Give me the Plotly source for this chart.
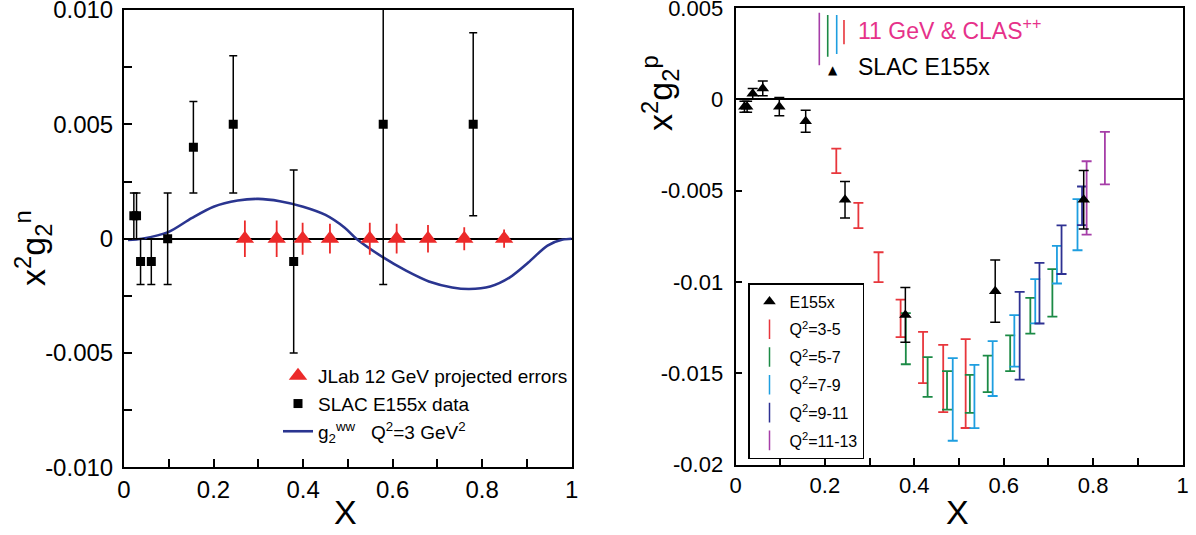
import plotly.graph_objects as go

FONT = "Liberation Sans, Arial, Helvetica, sans-serif"

# ---------------- Left panel (neutron) ----------------
slac_n_x = [0.022, 0.028, 0.037, 0.061, 0.0975, 0.155, 0.244, 0.379, 0.579, 0.780]
slac_n_y = [0.001, 0.001, -0.001, -0.001, 0.0, 0.004, 0.005, -0.001, 0.005, 0.005]
slac_n_err = [0.001, 0.001, 0.001, 0.001, 0.002, 0.002, 0.003, 0.004, 0.007, 0.004]

jlab_x = [0.270, 0.341, 0.399, 0.460, 0.549, 0.609, 0.679, 0.760, 0.849]
jlab_y = [0.0, 0.0, 0.0, 0.0, 0.0, 0.0, 0.0, 0.0, 0.0]
jlab_err = [0.0008, 0.0008, 0.0007, 0.00065, 0.0007, 0.00065, 0.0006, 0.0005, 0.0004]

ww_x = [0.009, 0.04, 0.10, 0.151, 0.20, 0.254, 0.30, 0.348, 0.40, 0.45, 0.493, 0.519,
        0.579, 0.63, 0.681, 0.733, 0.771, 0.818, 0.861, 0.903, 0.946, 0.98, 1.0]
ww_y = [-0.00006, 0.0, 0.0003, 0.0009, 0.0014, 0.00167, 0.00174, 0.00164, 0.0014, 0.00104,
        0.00048, 0.0, -0.00082, -0.0014, -0.00187, -0.00213, -0.0022, -0.00209, -0.0017,
        -0.00104, -0.0003, -0.00004, 0.0]

# ---------------- Right panel (proton) ----------------
e155_x = [0.020, 0.026, 0.0385, 0.061, 0.098, 0.157, 0.245, 0.380, 0.581, 0.779]
e155_y = [-0.0004, -0.0004, 0.0003, 0.0006, -0.0004, -0.0012, -0.0055, -0.0118, -0.0105, -0.0055]
e155_err = [0.0003, 0.0003, 0.0003, 0.0004, 0.0005, 0.0006, 0.0010, 0.0015, 0.0017, 0.0016]

q35_x = [0.2255, 0.2749, 0.320, 0.3694, 0.4196, 0.4647, 0.5149]
q35_y = [-0.00337, -0.00636, -0.00919, -0.01199, -0.01413, -0.01528, -0.01556]
q35_err = [0.00067, 0.00069, 0.00082, 0.00103, 0.0014, 0.00184, 0.00243]

q57_x = [0.381, 0.4298, 0.4732, 0.5243, 0.5643, 0.6145, 0.6596, 0.7089]
q57_y = [-0.0131, -0.0152, -0.01593, -0.01612, -0.01503, -0.0139, -0.01185, -0.01059]
q57_err = [0.0014, 0.00109, 0.00105, 0.00104, 0.0010, 0.00098, 0.00098, 0.0013]

q79_x = [0.486, 0.5345, 0.5753, 0.6238, 0.6706, 0.7191, 0.7651]
q79_y = [-0.01643, -0.01627, -0.01474, -0.01322, -0.01105, -0.00905, -0.00686]
q79_err = [0.00226, 0.00173, 0.0015, 0.00141, 0.00121, 0.00103, 0.0014]

q911_x = [0.6357, 0.680, 0.7294, 0.7753]
q911_y = [-0.01294, -0.01061, -0.00823, -0.00583]
q911_err = [0.0024, 0.00166, 0.00133, 0.00106]

q1113_x = [0.7855, 0.8264]
q1113_y = [-0.0054, -0.00322]
q1113_err = [0.00201, 0.00144]

left_xticks = [0, 0.2, 0.4, 0.6, 0.8, 1]
left_xtext = ["0", "0.2", "0.4", "0.6", "0.8", "1"]
left_yticks = [0.01, 0.005, 0, -0.005, -0.01]
left_ytext = ["0.010", "0.005", "0", "-0.005", "-0.010"]
right_yticks = [0.005, 0, -0.005, -0.01, -0.015, -0.02]
right_ytext = ["0.005", "0", "-0.005", "-0.01", "-0.015", "-0.02"]

RED = "#e8363c"
GREEN = "#1b8a45"
CYAN = "#1e9ee0"
BLUE = "#2e3192"
MAGENTA = "#a63ea8"
PINK = "#e6318a"
TRI_RED = "#ec2a2a"
CURVE = "#2a3590"

W, H = 1196, 535


def px(v):  # window pixel x -> paper
    return min(1.0, max(0.0, v / W))


def py(v):  # window pixel y -> paper
    return min(1.0, max(0.0, 1 - v / H))


fig = go.Figure()

# left traces
fig.add_trace(go.Scatter(
    x=ww_x, y=ww_y, mode="lines", xaxis="x", yaxis="y", legend="legend", legendrank=3,
    line=dict(color=CURVE, width=2.6, shape="spline", smoothing=0.8),
    name="g<sub>2</sub><sup>ww</sup>   Q<sup>2</sup>=3 GeV<sup>2</sup>"))
fig.add_trace(go.Scatter(
    x=slac_n_x, y=slac_n_y, mode="markers", xaxis="x", yaxis="y", legend="legend", legendrank=2,
    marker=dict(symbol="square", size=9, color="black"),
    error_y=dict(type="data", array=slac_n_err, color="black", thickness=1.5, width=4),
    name="SLAC E155x data"))
fig.add_trace(go.Scatter(
    x=jlab_x, y=jlab_y, mode="markers", xaxis="x", yaxis="y", legend="legend", legendrank=1,
    marker=dict(symbol="triangle-up", size=16, color=TRI_RED),
    error_y=dict(type="data", array=jlab_err, color=TRI_RED, thickness=1.8, width=0),
    name="JLab 12 GeV projected errors"))

# right traces (error bars only)
series = [
    (q35_x, q35_y, q35_err, RED, "Q<sup>2</sup>=3-5"),
    (q57_x, q57_y, q57_err, GREEN, "Q<sup>2</sup>=5-7"),
    (q79_x, q79_y, q79_err, CYAN, "Q<sup>2</sup>=7-9"),
    (q911_x, q911_y, q911_err, BLUE, "Q<sup>2</sup>=9-11"),
    (q1113_x, q1113_y, q1113_err, MAGENTA, "Q<sup>2</sup>=11-13"),
]
for sx, sy, se, col, nm in series:
    fig.add_trace(go.Scatter(
        x=sx, y=sy, mode="markers", xaxis="x2", yaxis="y2", showlegend=False,
        marker=dict(size=0, color="rgba(0,0,0,0)"),
        error_y=dict(type="data", array=se, color=col, thickness=1.8, width=5),
        name=nm, hoverinfo="skip"))

fig.add_trace(go.Scatter(
    x=e155_x, y=e155_y, mode="markers", xaxis="x2", yaxis="y2", legend="legend2",
    legendgroup="g0",
    marker=dict(symbol="triangle-up", size=11, color="black"),
    error_y=dict(type="data", array=e155_err, color="black", thickness=1.5, width=5),
    name="E155x"))
for i, (sx, sy, se, col, nm) in enumerate(series):
    fig.add_trace(go.Scatter(
        x=[None], y=[None], mode="markers", xaxis="x2", yaxis="y2", legend="legend2",
        legendgroup="g%d" % (i + 1),
        marker=dict(symbol="line-ns-open", size=14, color=col, line=dict(color=col, width=1.5)),
        name=nm))

xl = [px(124), px(571.7)]
yl = [py(467.4), py(10)]
xr = [px(735.5), px(1182.5)]
yr = [py(464.7), py(8)]

common_axis = dict(showgrid=False, showline=True, linecolor="black", mirror=True,
                   ticks="inside", tickcolor="black", automargin=False,
                   ticklabeloverflow="allow")

fig.update_layout(
    width=W, height=H,
    margin=dict(l=0, r=0, t=0, b=0),
    paper_bgcolor="white", plot_bgcolor="white",
    font=dict(family=FONT, color="black"),
    xaxis=dict(domain=xl, range=[0, 1], anchor="y", tickvals=left_xticks, ticktext=left_xtext,
               ticklen=8, tickwidth=1.5, linewidth=2, zeroline=False,
               tickfont=dict(size=24),
               minor=dict(tick0=0, dtick=0.1, ticks="inside", ticklen=8, tickcolor="black", tickwidth=1.5),
               **common_axis),
    yaxis=dict(domain=yl, range=[-0.01, 0.01], anchor="x", tickvals=left_yticks, ticktext=left_ytext,
               ticklen=8, tickwidth=1.5, linewidth=2, zeroline=True, zerolinecolor="black",
               zerolinewidth=2.2, tickfont=dict(size=24), ticklabelstandoff=4,
               minor=dict(tick0=0, dtick=0.0025, ticks="inside", ticklen=8, tickcolor="black", tickwidth=1.5),
               **common_axis),
    xaxis2=dict(domain=xr, range=[0, 1], anchor="y2", tickvals=left_xticks, ticktext=left_xtext,
                ticklen=7, tickwidth=1.5, linewidth=1.8, zeroline=False,
                tickfont=dict(size=22),
                minor=dict(tick0=0, dtick=0.1, ticks="inside", ticklen=7, tickcolor="black", tickwidth=1.5),
                **common_axis),
    yaxis2=dict(domain=yr, range=[-0.02, 0.005], anchor="x2", tickvals=right_yticks, ticktext=right_ytext,
                ticklen=7, tickwidth=1.5, linewidth=1.8, zeroline=True, zerolinecolor="black",
                zerolinewidth=1.6, tickfont=dict(size=22), ticklabelstandoff=6,
                **common_axis),
    legend=dict(x=px(278), y=py(357), xanchor="left", yanchor="top",
                bgcolor="rgba(0,0,0,0)", borderwidth=0, font=dict(size=19, family=FONT),
                tracegroupgap=0),
    legend2=dict(x=px(748), y=py(283), xanchor="left", yanchor="top",
                 bgcolor="white", bordercolor="black", borderwidth=1.5,
                 font=dict(size=16, family=FONT), traceorder="grouped", tracegroupgap=4),
)

# axis titles
ann = [
    dict(text="x<sup>2</sup>g<sub>2</sub><sup>n</sup>", x=px(33), y=py(248), textangle=-90,
         font=dict(size=34)),
    dict(text="x<sup>2</sup>g<sub>2</sub><sup>p</sup>", x=px(660), y=py(93), textangle=-90,
         font=dict(size=34)),
    dict(text="X", x=px(346), y=py(512), font=dict(size=34)),
    dict(text="X", x=px(957), y=py(512), font=dict(size=34)),
]
for a in ann:
    fig.add_annotation(xref="paper", yref="paper", showarrow=False, xanchor="center",
                       yanchor="middle", **a)

# key in the top of the right panel
fig.add_annotation(xref="x2", yref="y2", x=0.2705, y=0.00383, showarrow=False, xanchor="left",
                   yanchor="middle", text="11 GeV &amp; CLAS<sup>++</sup>",
                   font=dict(size=23, color=PINK))
fig.add_annotation(xref="x2", yref="y2", x=0.269, y=0.00178, showarrow=False, xanchor="left",
                   yanchor="middle", text="SLAC E155x", font=dict(size=23, color="black"))
fig.add_annotation(xref="x2", yref="y2", x=0.2188, y=0.0016, showarrow=False, xanchor="center",
                   yanchor="middle", text="▲", font=dict(size=12, color="black",
                                                        family="DejaVu Sans"))
key_lines = [
    (0.1875, 0.00187, 0.00474, MAGENTA),
    (0.2063, 0.00233, 0.00461, GREEN),
    (0.2264, 0.00248, 0.00461, CYAN),
    (0.2427, 0.00301, 0.00434, RED),
]
for kx, y0, y1, col in key_lines:
    fig.add_shape(type="line", xref="x2", yref="y2", x0=kx, x1=kx, y0=y0, y1=y1,
                  line=dict(color=col, width=1.6))

# remove the browser's default 8px page margin so the figure fills the window
fig.write_html("out.html",
               config={"displayModeBar": False},
               post_script="document.body.style.margin='0';document.body.style.overflow='hidden';")
